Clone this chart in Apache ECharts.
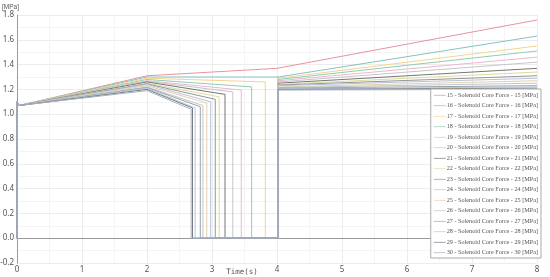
<!DOCTYPE html>
<html><head><meta charset="utf-8">
<script src="https://cdn.jsdelivr.net/npm/echarts@6/dist/echarts.min.js"></script>
<style>html,body{margin:0;padding:0;background:#fff}#c{width:550px;height:277px}</style>
</head><body><div id="c"></div>
<script>
// Series ids
const seriesIds = [15,16,17,18,19,20,21,22,23,24,25,26,27,28,29,30];
const colors = ['#e8939e','#86c2c2','#f2d68e','#8fcdb0','#ecb6d2','#c6c6c6','#767676','#dcdc9c','#959595','#b4c4d6','#e4cfae','#c4c4cc','#96a4a4','#b0cade','#7a7a84','#a8b0c0'];
// value at t=0 and t=2
const v0 = 1.07;
const v2 = [1.31,1.30,1.29,1.28,1.27,1.265,1.26,1.25,1.245,1.24,1.23,1.22,1.215,1.21,1.20,1.19];
// drop time (null = no drop) and value just before the drop
const tDrop = [null,4.02,3.82,3.61,3.45,3.32,3.20,3.11,3.05,2.98,2.92,2.86,2.82,2.74,2.70,2.68];
const vDrop = [null,1.30,1.26,1.22,1.195,1.18,1.16,1.14,1.12,1.10,1.09,1.07,1.06,1.05,1.05,1.04];
const tReturn = 4.02;
// value at t=4 (after return) and at t=8
const v4 = [1.37,1.30,1.29,1.28,1.27,1.26,1.25,1.24,1.235,1.23,1.22,1.215,1.21,1.205,1.20,1.195];
const v8 = [1.76,1.63,1.55,1.51,1.46,1.42,1.37,1.34,1.31,1.29,1.27,1.25,1.23,1.22,1.21,1.20];
const xTicks = [0,1,2,3,4,5,6,7,8];

const series = seriesIds.map((id,i)=>{
  const d = [[0,0],[0,1.1],[0.03,v0],[2,v2[i]]];
  if (tDrop[i] === null) {
    d.push([4,v4[i]]);
  } else {
    d.push([tDrop[i],vDrop[i]],[tDrop[i],0],[tReturn,0],[tReturn,v4[i]]);
  }
  d.push([8,v8[i]]);
  return {
    name: id + ' - Solenoid Core Force - ' + id + ' [MPa]',
    type:'line', data:d, symbol:'none', animation:false,
    lineStyle:{width:1,color:colors[i]}, itemStyle:{color:colors[i]}
  };
});

const chart = echarts.init(document.getElementById('c'));
chart.setOption({
  animation:false,
  grid:{left:17,right:13,top:15,bottom:14,containLabel:false,outerBoundsMode:'none'},
  xAxis:{type:'value',min:0,max:8,interval:1,
    name:'Time(s)',nameLocation:'middle',nameGap:5,nameMoveOverlap:false,
    nameTextStyle:{fontFamily:'DejaVu Sans Mono',fontSize:7.5,color:'#555',padding:[0,70,0,0]},
    axisLine:{show:true,lineStyle:{color:'#999'}},axisTick:{show:false},
    axisLabel:{fontSize:8,color:'#555',margin:3,fontFamily:'Noto Sans'},
    splitLine:{show:true,lineStyle:{color:'#ececec',width:1}},
    minorTick:{show:false,splitNumber:2},
    minorSplitLine:{show:true,lineStyle:{color:'#f4f4f4'}}
  },
  yAxis:{type:'value',min:-0.2,max:1.8,interval:0.2,
    name:'[MPa]',nameLocation:'end',nameGap:4,
    nameTextStyle:{fontSize:6.5,color:'#555',align:'left',padding:[0,0,0,-15]},
    axisLine:{show:true,lineStyle:{color:'#999'}},axisTick:{show:false},
    axisLabel:{fontSize:8,color:'#555',margin:3,fontFamily:'Noto Sans',formatter:v=>v.toFixed(1)},
    splitLine:{show:true,lineStyle:{color:'#ececec',width:1}},
    minorTick:{show:false,splitNumber:2},
    minorSplitLine:{show:true,lineStyle:{color:'#f4f4f4'}}
  },
  legend:{orient:'vertical',right:9,top:89,backgroundColor:'#fff',borderColor:'#aaa',borderWidth:1,
    padding:[3,3,2,3],itemGap:4.0,itemWidth:12,itemHeight:6,
    icon:'path://M0,2.75 L12,2.75 L12,3.45 L0,3.45 Z',
    textStyle:{fontFamily:'Liberation Serif',fontSize:6.2,lineHeight:6.5,color:'#555',padding:[0,0,0,-4]}},
  series: series
});
</script></body></html>
